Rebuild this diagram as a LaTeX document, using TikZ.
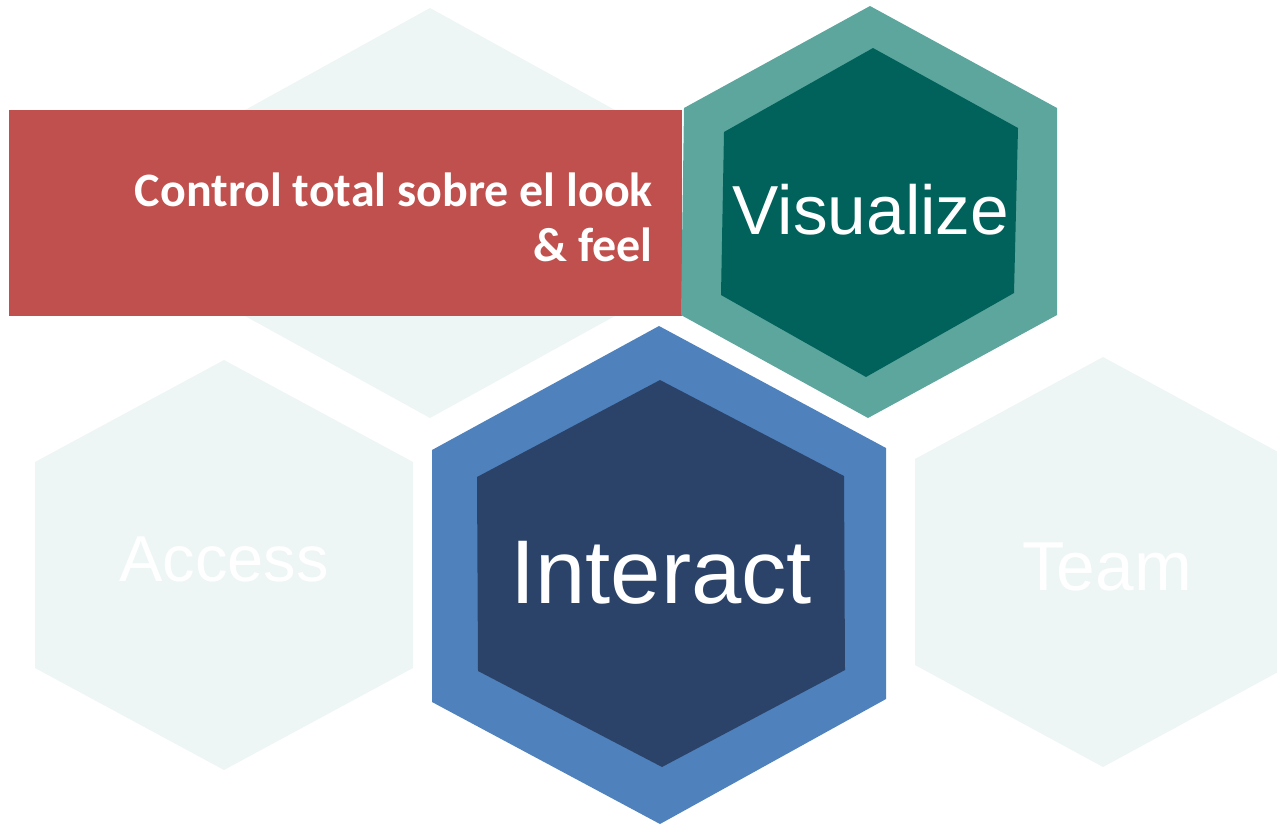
\documentclass[tikz,border=0pt]{standalone}
\usepackage{fontspec}
\setmainfont{Liberation Sans}
\newfontfamily\boxfont{Carlito}
\usepackage{tikz}
\usetikzlibrary{positioning}
\usepackage{xcolor}
\definecolor{boxred}{RGB}{192,80,77}
\definecolor{vislight}{RGB}{93,166,158}
\definecolor{visdark}{RGB}{0,98,90}
\definecolor{intlight}{RGB}{79,129,189}
\definecolor{intdark}{RGB}{44,67,105}
\definecolor{ghost}{RGB}{237,245,245}

\begin{document}
\begin{tikzpicture}[x=0.02cm, y=-0.02cm,
    ghosthex/.style={fill=ghost},
    hexlabel/.style={text=white, inner sep=0pt, anchor=base}]

    \useasboundingbox (0,0) rectangle (1277,825);

    %faint hexagons in the back
    \fill[ghosthex, shift={(430,213)}]
    (0,-205) -- (185,-103) -- (185,103) -- (0,205) -- (-185,103) -- (-185,-103) -- cycle;
    \fill[ghosthex, shift={(224,565)}]
    (0,-205) -- (189,-103) -- (189,103) -- (0,205) -- (-189,103) -- (-189,-103) -- cycle;
    \fill[ghosthex, shift={(1103,562)}]
    (0,-205) -- (188,-103) -- (188,103) -- (0,205) -- (-188,103) -- (-188,-103) -- cycle;

    % ------------------

    %red banner
    \fill[boxred] (9,110) rectangle (682,316);

    % ------------------

    %Visualize
    \fill[vislight]
    (870,6) -- (1057,108) -- (1057,315) -- (868,418) -- (681,315) -- (684,108) -- cycle;
    \fill[visdark]
    (873,48) -- (1018,128) -- (1014,293) -- (866,377) -- (721,295) -- (724,132) -- cycle;

    % ------------------

    %Interact
    \fill[intlight]
    (659,326) -- (886,448) -- (886,699) -- (660,824) -- (432,702) -- (432,450) -- cycle;
    \fill[intdark]
    (660,380) -- (844,476) -- (845,670) -- (662,767) -- (478,671) -- (477,477) -- cycle;

    % ------------------

    %labels
    \node[text=white, inner sep=0pt, anchor=north east, align=right,
        font=\boxfont\bfseries\fontsize{27.3}{31.8}\selectfont] (look) at (653,172)
    {Control total sobre el look\\\& feel};

    \node[hexlabel, font=\fontsize{39.5}{42}\selectfont] (vis) at (871,234) {Visualize};
    \node[hexlabel, font=\fontsize{51.5}{55}\selectfont] (int) at (661,603) {Interact};
    \node[hexlabel, font=\fontsize{37}{40}\selectfont] (acc) at (224,581) {Access};
    \node[hexlabel, font=\fontsize{39.5}{42}\selectfont] (team) at (1107,590) {Team};
\end{tikzpicture}
\end{document}
